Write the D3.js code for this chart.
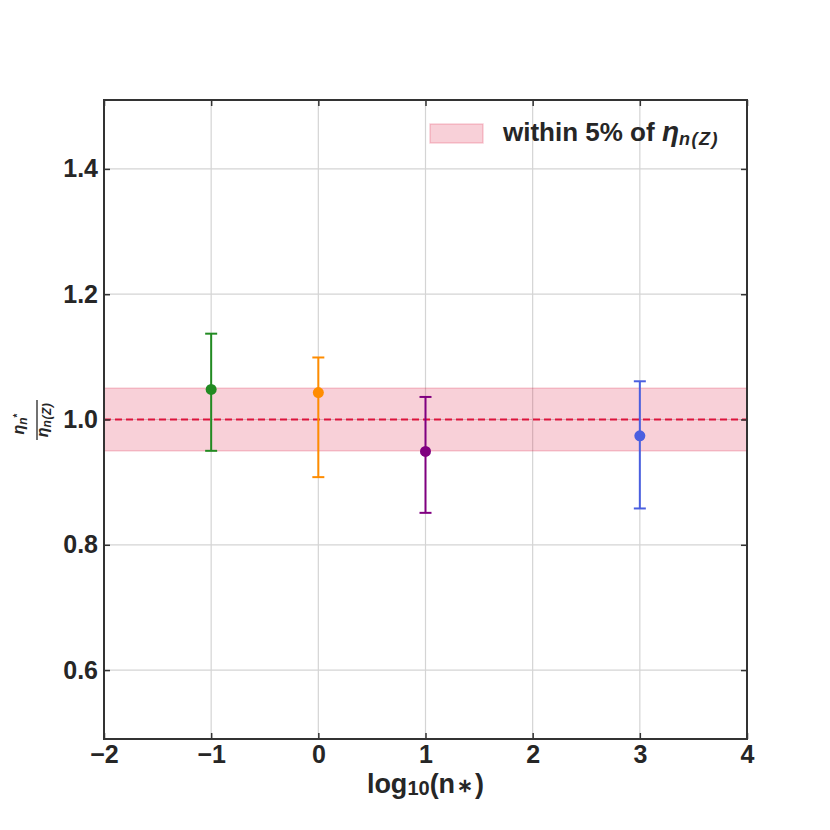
<!DOCTYPE html>
<html>
<head>
<meta charset="utf-8">
<script src="https://cdn.jsdelivr.net/npm/d3@7"></script>
<style>
  body { margin: 0; background: #fff; }
  text { font-family: "Liberation Sans", Arial, sans-serif; font-weight: bold; fill: #262626; }
</style>
</head>
<body>
<div id="chart"></div>
<script>
// data
const logN = [-1, 0, 1, 3];
const ratio = [1.048, 1.043, 0.949, 0.974];
const upper = [1.137, 1.099, 1.036, 1.061];
const lower = [0.950, 0.908, 0.851, 0.858];
const colors = ["#228b22", "#ff8c00", "#800080", "#4a5fe0"];
const xTicks = [-2, -1, 0, 1, 2, 3, 4];
const yTicks = [0.6, 0.8, 1.0, 1.2, 1.4];
const band = [0.95, 1.05];

const WIDTH = 830, HEIGHT = 830;
const M = {top: 100, right: 83, bottom: 91, left: 104};
const W = WIDTH - M.left - M.right, H = HEIGHT - M.top - M.bottom;

const svg = d3.select("#chart").append("svg").attr("width", WIDTH).attr("height", HEIGHT);
const g = svg.append("g").attr("transform", `translate(${M.left},${M.top})`);

const x = d3.scaleLinear().domain([-2, 4]).range([0, W]);
const y = d3.scaleLinear().domain([0.49, 1.51]).range([H, 0]);

// grid
g.selectAll(".gx").data(xTicks).enter().append("line")
  .attr("x1", d => x(d)).attr("x2", d => x(d)).attr("y1", 0).attr("y2", H)
  .attr("stroke", "#d4d4d4").attr("stroke-width", 1.2);
g.selectAll(".gy").data(yTicks).enter().append("line")
  .attr("y1", d => y(d)).attr("y2", d => y(d)).attr("x1", 0).attr("x2", W)
  .attr("stroke", "#d4d4d4").attr("stroke-width", 1.2);

// 5% band
g.append("rect")
  .attr("x", 0).attr("width", W)
  .attr("y", y(band[1])).attr("height", y(band[0]) - y(band[1]))
  .attr("fill", "rgba(220,20,60,0.2)").attr("stroke", "rgba(220,20,60,0.2)").attr("stroke-width", 1.5);

g.append("line")
  .attr("x1", 0).attr("x2", W).attr("y1", y(1)).attr("y2", y(1))
  .attr("stroke", "#dc143c").attr("stroke-width", 2.2).attr("stroke-dasharray", "7,4");

// error bars
const pts = g.selectAll(".pt").data(logN).enter().append("g");
pts.append("line")
  .attr("x1", (d) => x(d)).attr("x2", (d) => x(d))
  .attr("y1", (d, i) => y(upper[i])).attr("y2", (d, i) => y(lower[i]))
  .attr("stroke", (d, i) => colors[i]).attr("stroke-width", 2);
[upper, lower].forEach(arr => {
  pts.append("line")
    .attr("x1", d => x(d) - 6).attr("x2", d => x(d) + 6)
    .attr("y1", (d, i) => y(arr[i])).attr("y2", (d, i) => y(arr[i]))
    .attr("stroke", (d, i) => colors[i]).attr("stroke-width", 2);
});
pts.append("circle")
  .attr("cx", d => x(d)).attr("cy", (d, i) => y(ratio[i])).attr("r", 5.5)
  .attr("fill", (d, i) => colors[i]);

// axes, ticks inward on all sides
const frame = "#333";
g.append("g").attr("transform", `translate(0,${H})`)
  .call(d3.axisBottom(x).tickValues(xTicks).tickSizeInner(-6).tickSizeOuter(0).tickPadding(6)
    .tickFormat(d => d < 0 ? "\u2212" + Math.abs(d) : d));
g.append("g").call(d3.axisLeft(y).tickValues(yTicks).tickSizeInner(-6).tickSizeOuter(0).tickPadding(6)
  .tickFormat(d3.format(".1f")));
g.append("g").attr("transform", `translate(${W},0)`)
  .call(d3.axisRight(y).tickValues(yTicks).tickSizeInner(-6).tickSizeOuter(0).tickFormat(""));
g.append("g")
  .call(d3.axisTop(x).tickValues(xTicks).tickSizeInner(-6).tickSizeOuter(0).tickFormat(""));
g.selectAll(".domain").remove();
g.selectAll(".tick line").attr("stroke", frame).attr("stroke-width", 1.5);
g.selectAll(".tick text").attr("font-size", 25).attr("font-family", "Liberation Sans, Arial, sans-serif")
  .attr("font-weight", "bold").attr("fill", "#262626");
g.append("rect").attr("width", W).attr("height", H).attr("fill", "none")
  .attr("stroke", frame).attr("stroke-width", 2);

// x label
const xl = svg.append("text").attr("x", M.left + W / 2).attr("y", 793)
  .attr("text-anchor", "middle").attr("font-size", 27);
xl.append("tspan").text("log");
xl.append("tspan").attr("font-size", 20).attr("dy", 2).text("10");
xl.append("tspan").attr("dy", -2).text("(n");
xl.append("tspan").attr("font-size", 19).attr("dx", 2).attr("dy", -1).text("\u2217");
xl.append("tspan").attr("dx", 2).attr("dy", 1).text(")");

// y label: fraction, rotated
const yl = svg.append("g").attr("transform", "translate(37,420) rotate(-90)");
const num = yl.append("text").attr("x", -4).attr("y", -13).attr("text-anchor", "middle").attr("font-size", 16);
num.append("tspan").attr("font-style", "italic").text("\u03b7");
num.append("tspan").attr("font-style", "italic").attr("font-size", 12).attr("dy", 3).text("n");
num.append("tspan").attr("font-size", 10).attr("dy", -6).text("*");
yl.append("line").attr("x1", -20).attr("x2", 20).attr("y1", 0).attr("y2", 0)
  .attr("stroke", "#262626").attr("stroke-width", 1.3);
const den = yl.append("text").attr("x", 0).attr("y", 11).attr("text-anchor", "middle").attr("font-size", 16);
den.append("tspan").attr("font-style", "italic").text("\u03b7");
den.append("tspan").attr("font-style", "italic").attr("font-size", 12).attr("dy", 3).attr("letter-spacing", 0.5).text("n(Z)");

// legend
const lg = svg.append("g").attr("transform", "translate(430,124)");
lg.append("rect").attr("width", 53).attr("height", 19)
  .attr("fill", "rgba(220,20,60,0.2)").attr("stroke", "rgba(220,20,60,0.2)").attr("stroke-width", 1.5);
const lt = lg.append("text").attr("x", 73).attr("y", 17).attr("font-size", 26);
lt.append("tspan").text("within 5% of ");
lt.append("tspan").attr("font-style", "italic").attr("font-size", 28).text("\u03b7");
lt.append("tspan").attr("font-style", "italic").attr("font-size", 18).attr("dy", 4).attr("letter-spacing", 1.5).text("n(Z)");
</script>
</body>
</html>
